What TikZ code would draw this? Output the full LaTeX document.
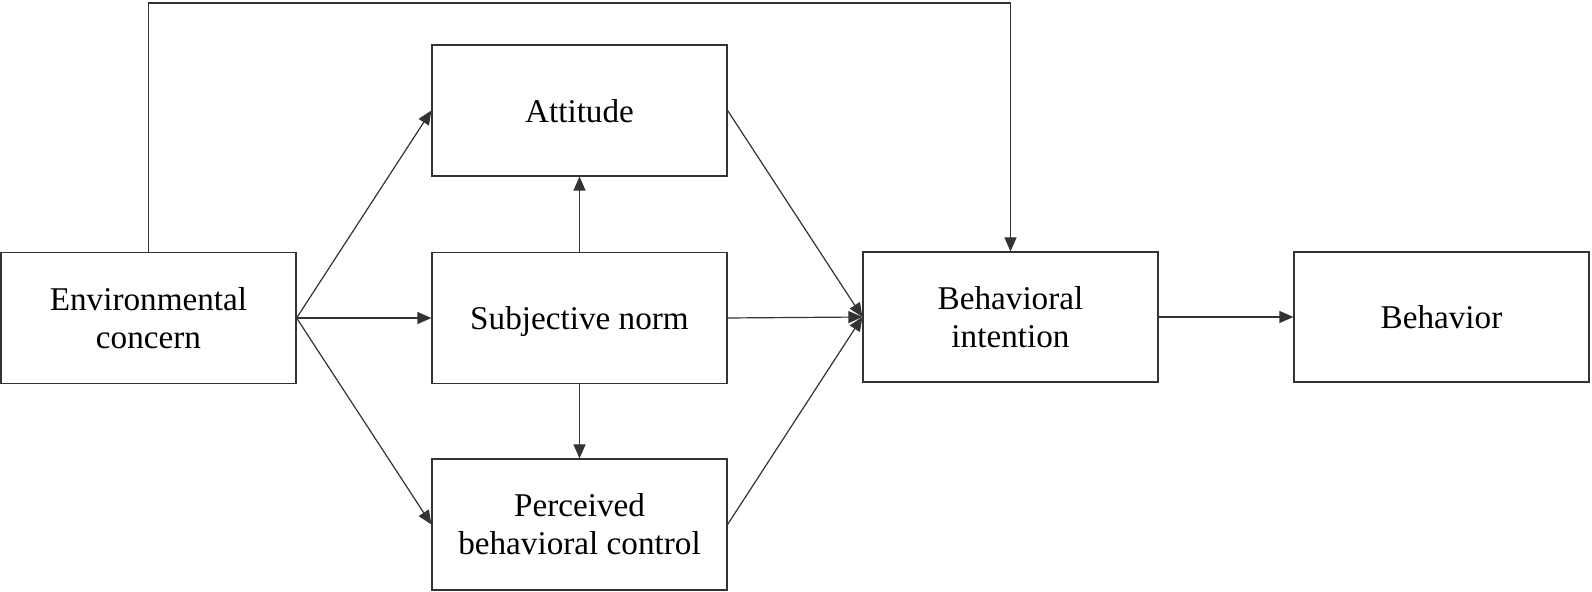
\documentclass[tikz,border=0pt]{standalone}
\usepackage{fontspec}
\setmainfont{Liberation Serif}
\usetikzlibrary{arrows.meta}
\begin{document}
\begin{tikzpicture}[x=0.5pt,y=-0.5pt,
  box/.style={draw=black!80, line width=0.6pt, inner sep=0pt, align=center,
    minimum width=147.5pt, minimum height=65.5pt,
    font=\fontsize{16.6}{19}\selectfont},
  oneline/.style={text depth=0pt},
  arr/.style={draw=black!80, line width=0.6pt, -{Triangle[length=7pt,width=6pt]}}]
\useasboundingbox (0,0) rectangle (1592,592);
\node[box] (env) at (148.5,318) {Environmental\\concern};
\node[box, oneline] (att) at (579.5,110.5) {Attitude};
\node[box, oneline] (sn) at (579.5,318) {Subjective norm};
\node[box] (pbc) at (579.5,524.5) {Perceived\\behavioral control};
\node[box, minimum height=65pt] (bi) at (1010.5,317) {Behavioral\\intention};
\node[box, minimum height=65pt, oneline] (beh) at (1441.5,317) {Behavior};
\coordinate (topl) at (150,3);
\draw[arr] (env.east) -- (att.west);
\draw[arr] (env.east) -- (sn.west);
\draw[arr] (env.east) -- (pbc.west);
\draw[arr] (sn.north) -- (att.south);
\draw[arr] (sn.south) -- (pbc.north);
\draw[arr] (att.east) -- (bi.west);
\draw[arr] (sn.east) -- (bi.west);
\draw[arr] (pbc.east) -- (bi.west);
\draw[arr] (bi.east) -- (beh.west);
\draw[arr] (env.north) -- (env.north |- topl) -| (bi.north);
\end{tikzpicture}
\end{document}
